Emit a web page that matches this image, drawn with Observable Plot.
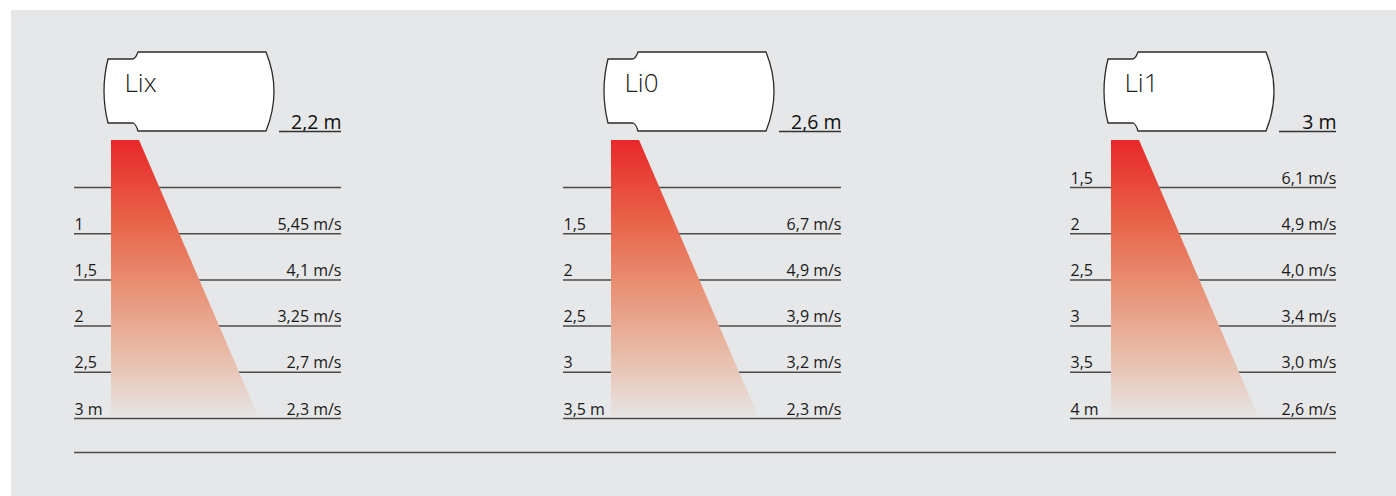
<!DOCTYPE html>
<html>
<head>
<meta charset="utf-8">
<script src="https://cdn.jsdelivr.net/npm/d3@7"></script>
<script src="https://cdn.jsdelivr.net/npm/@observablehq/plot@0.6"></script>
<style>
  html, body { margin: 0; padding: 0; background: #ffffff; }
  #chart svg { display: block; }
</style>
</head>
<body>
<div id="chart"></div>
<script>
// ---- data ----
const models = ["Lix", "Li0", "Li1"];
const mountHeights = ["2,2 m", "2,6 m", "3 m"];
const distLabels = [
  ["", "1", "1,5", "2", "2,5", "3 m"],
  ["", "1,5", "2", "2,5", "3", "3,5 m"],
  ["1,5", "2", "2,5", "3", "3,5", "4 m"]
];
const speedLabels = [
  ["", "5,45 m/s", "4,1 m/s", "3,25 m/s", "2,7 m/s", "2,3 m/s"],
  ["", "6,7 m/s", "4,9 m/s", "3,9 m/s", "3,2 m/s", "2,3 m/s"],
  ["6,1 m/s", "4,9 m/s", "4,0 m/s", "3,4 m/s", "3,0 m/s", "2,6 m/s"]
];

// ---- layout (not data) ----
const W = 1396, H = 496;
const deviceX = [104, 604, 1104];
const lineX1 = [74, 563, 1070];
const lineX2 = [341, 841, 1336];
const rowTop = 187, rowBottom = 418;
const rowStep = (rowBottom - rowTop) / 5;
const slot = py => (py - rowTop) / rowStep;   // pixel row -> row units

const rows = models.flatMap((m, i) =>
  distLabels[i].map((d, r) => ({panel: i, row: r, dist: d, speed: speedLabels[i][r], x1: lineX1[i], x2: lineX2[i]}))
);

const beam = models.flatMap((m, i) => [
  {panel: i, y: slot(140), x1: deviceX[i] + 7, x2: deviceX[i] + 35},
  {panel: i, y: slot(416), x1: deviceX[i] + 7, x2: deviceX[i] + 154}
]);

function deviceMark(index, scales) {
  const X = scales.x, Y = v => scales.y(slot(v));
  const g = d3.create("svg:g");
  const defs = g.append("defs");
  const grad = defs.append("linearGradient")
    .attr("id", "beamGrad").attr("x1", 0).attr("y1", 0).attr("x2", 0).attr("y2", 1);
  [[0, "#e8282a"], [0.3, "#e8644a"], [0.55, "#e89478"], [0.8, "#e8c0ae"], [1, "#e6e4e3"]]
    .forEach(([o, c]) => grad.append("stop").attr("offset", o).attr("stop-color", c));
  models.forEach((m, i) => {
    const x0 = deviceX[i];
    const px = dx => X(x0 + dx);
    const p = d3.path();
    p.moveTo(px(4), Y(59));
    p.lineTo(px(29), Y(59));
    p.quadraticCurveTo(px(32), Y(58), px(34), Y(52));
    p.lineTo(px(162), Y(52));
    p.quadraticCurveTo(px(178), Y(91.5), px(162), Y(131));
    p.lineTo(px(34), Y(131));
    p.quadraticCurveTo(px(32), Y(124), px(29), Y(123));
    p.lineTo(px(4), Y(123));
    p.quadraticCurveTo(px(-4), Y(91), px(4), Y(59));
    p.closePath();
    g.append("path").attr("d", p.toString())
      .attr("fill", "#ffffff").attr("stroke", "#2b2b2b").attr("stroke-width", 1.3);
  });
  return g.node();
}

const chart = Plot.plot({
  width: W,
  height: H,
  marginLeft: 0,
  marginRight: 0,
  marginTop: rowTop,
  marginBottom: H - rowBottom,
  x: {domain: [0, W], range: [0, W], axis: null},
  y: {domain: [0, 5], range: [rowTop, rowBottom], axis: null},
  style: {
    fontFamily: "'Open Sans', 'Noto Sans', sans-serif",
    color: "#222222",
    background: "linear-gradient(#e6e7e8, #e6e7e8) 11px 10px / 1385px 486px no-repeat, #ffffff",
    overflow: "visible"
  },
  marks: [
    Plot.ruleY(rows, {y: "row", x1: "x1", x2: "x2", stroke: "#4a4a4a", strokeWidth: 1.5}),
    Plot.ruleY([slot(452)], {x1: lineX1[0], x2: lineX2[2], stroke: "#4a4a4a", strokeWidth: 1.5}),
    Plot.areaX(beam, {y: "y", x1: "x1", x2: "x2", z: "panel", fill: "url(#beamGrad)"}),
    deviceMark,
    Plot.text(models, {x: (d, i) => deviceX[i] + 20, y: slot(91), text: d => d, textAnchor: "start", lineAnchor: "bottom", fontSize: 26, fontWeight: 300, fill: "#222"}),
    Plot.text(mountHeights, {x: (d, i) => lineX2[i], y: slot(128), text: d => d, textAnchor: "end", lineAnchor: "bottom", fontSize: 19.5, fill: "#111"}),
    Plot.ruleY(models, {y: slot(131), x1: (d, i) => deviceX[i] + 175, x2: (d, i) => lineX2[i], stroke: "#333333", strokeWidth: 1.3}),
    Plot.text(rows, {x: "x1", y: "row", dy: -4, text: "dist", textAnchor: "start", lineAnchor: "bottom", fontSize: 16, fill: "#1a1a1a"}),
    Plot.text(rows, {x: "x2", y: "row", dy: -4, text: "speed", textAnchor: "end", lineAnchor: "bottom", fontSize: 16, fill: "#1a1a1a"})
  ]
});

document.getElementById("chart").appendChild(chart);
</script>
</body>
</html>
